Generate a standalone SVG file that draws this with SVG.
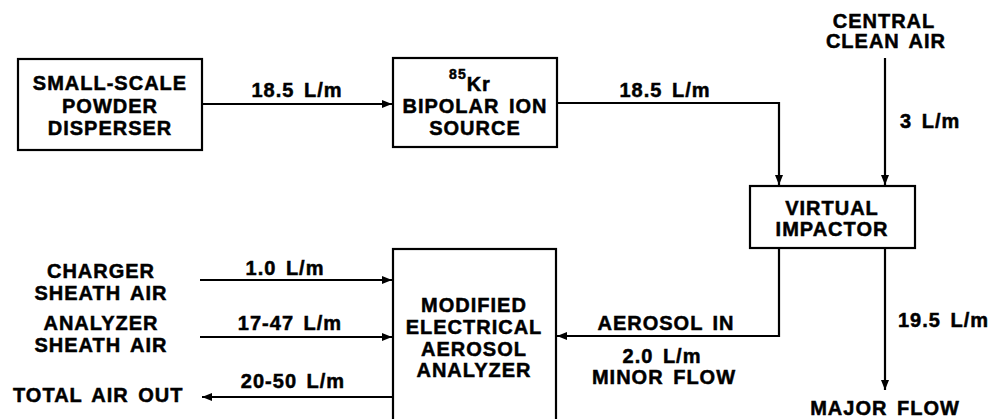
<svg xmlns="http://www.w3.org/2000/svg" width="992" height="419" viewBox="0 0 992 419">
<defs>
<marker id="ah" viewBox="0 0 10 8" refX="10" refY="4" markerWidth="10" markerHeight="8" markerUnits="userSpaceOnUse" orient="auto">
<path d="M0,0 L10,4 L0,8 Z" fill="#000"/>
</marker>
</defs>
<style>
text{font-family:"Liberation Sans",Arial,sans-serif;font-weight:bold;font-size:20px;letter-spacing:1px;word-spacing:3px;fill:#000;stroke:#000;stroke-width:0.5}
.c{text-anchor:middle}
.box{fill:#fff;stroke:#000;stroke-width:2.2}
.ln{fill:none;stroke:#000;stroke-width:2.2;marker-end:url(#ah)}
</style>
<rect width="992" height="419" fill="#fff"/>
<g id="connectors">
<path class="ln" d="M202,104 H392"/>
<path class="ln" d="M557,103 H779 V185"/>
<path class="ln" d="M885,58 V185"/>
<path class="ln" d="M779,248 V336 H557"/>
<path class="ln" d="M885,248 V390"/>
<path class="ln" d="M200,280 H392"/>
<path class="ln" d="M200,337 H392"/>
<path class="ln" d="M393,397 H202"/>
<text class="c" x="297" y="97">18.5 L/m</text>
<text class="c" x="665" y="97">18.5 L/m</text>
<text x="900" y="128">3 L/m</text>
<text x="898" y="327">19.5 L/m</text>
<text class="c" x="666" y="330">AEROSOL IN</text>
<text class="c" x="662" y="363">2.0 L/m</text>
<text class="c" x="664" y="384">MINOR FLOW</text>
<text class="c" x="285" y="275">1.0 L/m</text>
<text class="c" x="290" y="330">17-47 L/m</text>
<text class="c" x="293" y="388">20-50 L/m</text>
</g>
<g id="disperser">
<rect class="box" x="18" y="59" width="184" height="91"/>
<text class="c" x="110" y="90">SMALL-SCALE</text>
<text class="c" x="110" y="113">POWDER</text>
<text class="c" x="110" y="135">DISPERSER</text>
</g>
<g id="ion-source">
<rect class="box" x="393" y="58" width="164" height="89"/>
<text class="c" x="470" y="91"><tspan font-size="14" dy="-12">85</tspan><tspan dy="12">Kr</tspan></text>
<text class="c" x="475" y="113">BIPOLAR ION</text>
<text class="c" x="475" y="135">SOURCE</text>
</g>
<g id="central-air">
<text class="c" x="884" y="28">CENTRAL</text>
<text class="c" x="886" y="48">CLEAN AIR</text>
</g>
<g id="virtual-impactor">
<rect class="box" x="750" y="186" width="165" height="62"/>
<text class="c" x="832" y="215">VIRTUAL</text>
<text class="c" x="832" y="236">IMPACTOR</text>
</g>
<g id="analyzer">
<rect class="box" x="393" y="249" width="163" height="200"/>
<text class="c" x="474" y="312">MODIFIED</text>
<text class="c" x="474" y="334">ELECTRICAL</text>
<text class="c" x="474" y="356">AEROSOL</text>
<text class="c" x="474" y="377">ANALYZER</text>
</g>
<g id="charger-air">
<text class="c" x="101" y="278">CHARGER</text>
<text class="c" x="101" y="300">SHEATH AIR</text>
</g>
<g id="analyzer-air">
<text class="c" x="101" y="330">ANALYZER</text>
<text class="c" x="101" y="352">SHEATH AIR</text>
</g>
<g id="total-out">
<text x="13" y="402">TOTAL AIR OUT</text>
</g>
<g id="major-flow">
<text class="c" x="885" y="415">MAJOR FLOW</text>
</g>
</svg>
